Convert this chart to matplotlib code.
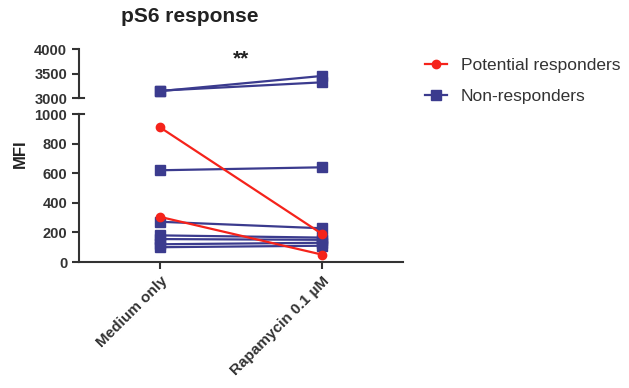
import numpy as np
import matplotlib.pyplot as plt
from matplotlib.lines import Line2D

plt.rcParams['font.family'] = ['Liberation Sans', 'DejaVu Sans']

# conditions on the x axis
conditions = ['Medium only', 'Rapamycin 0.1 µM']

# MFI per donor: (medium, rapamycin)
responders_medium = [910, 305]
responders_rapa = [190, 50]
nonresp_medium = [3140, 3150, 620, 272, 180, 155, 120, 100]
nonresp_rapa = [3450, 3320, 640, 228, 165, 150, 130, 110]

lower_ticks = [0, 200, 400, 600, 800, 1000]
upper_ticks = [3000, 3500, 4000]

red = '#f5231b'
navy = '#3b3b8e'
axis_col = '#333333'

fig = plt.figure(figsize=(6.29, 3.88), dpi=100)
ax_hi = fig.add_axes([0.1256, 0.7474, 0.5151, 0.1263])
ax_lo = fig.add_axes([0.1256, 0.3247, 0.5151, 0.3814])

x = np.arange(len(conditions))

for ax in (ax_hi, ax_lo):
    for m, r in zip(nonresp_medium, nonresp_rapa):
        ax.plot(x, [m, r], color=navy, lw=1.6, marker='s', ms=6.5)
    for m, r in zip(responders_medium, responders_rapa):
        ax.plot(x, [m, r], color=red, lw=1.6, marker='o', ms=6)
    ax.set_xlim(-0.5, 1.5)
    for s in ('top', 'right'):
        ax.spines[s].set_visible(False)
    for s in ('left', 'bottom'):
        ax.spines[s].set_color(axis_col)
        ax.spines[s].set_linewidth(1.5)
    ax.tick_params(colors=axis_col, width=1.5, length=5, labelsize=10.5)

ax_lo.set_ylim(0, 1000)
ax_lo.set_yticks(lower_ticks)
ax_lo.set_yticklabels([str(t) for t in lower_ticks], fontweight='bold')
ax_lo.set_xticks(x)
ax_lo.set_xticklabels(conditions, rotation=45, ha='right', rotation_mode='anchor',
                      fontweight='bold', fontsize=11)

ax_hi.set_ylim(3000, 4000)
ax_hi.set_yticks(upper_ticks)
ax_hi.set_yticklabels([str(t) for t in upper_ticks], fontweight='bold')
ax_hi.spines['bottom'].set_visible(False)
ax_hi.set_xticks([])

# small break marks at the ends of the split axis
ax_hi.plot([-0.5, -0.47], [3000, 3000], color=axis_col, lw=1.5, clip_on=False)
ax_lo.plot([-0.5, -0.47], [1000, 1000], color=axis_col, lw=1.5, clip_on=False)

ax_hi.text(0.5, 3800, '**', ha='center', va='center', fontsize=15, fontweight='bold',
           color='#222222')

fig.text(190 / 629, 1 - 16 / 388, 'pS6 response', ha='center', va='center',
         fontsize=15, fontweight='bold', color='#222222')
fig.text(20 / 629, 1 - 154 / 388, 'MFI', ha='center', va='center', rotation=90,
         fontsize=12, fontweight='bold', color='#222222')

handles = [
    Line2D([], [], color=red, lw=1.6, marker='o', ms=6),
    Line2D([], [], color=navy, lw=1.6, marker='s', ms=6.5),
]
fig.legend(handles, ['Potential responders', 'Non-responders'],
           loc='center left', bbox_to_anchor=(409 / 629, 1 - 81 / 388),
           frameon=False, fontsize=12.5, handlelength=1.3, handletextpad=0.8,
           labelspacing=0.9, labelcolor='#333333')

fig.savefig('out.png', dpi=100)
